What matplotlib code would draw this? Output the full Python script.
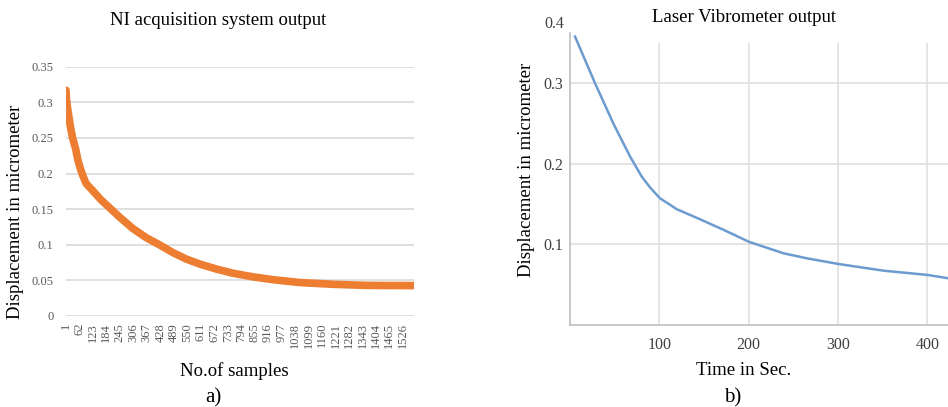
import matplotlib.pyplot as plt
import numpy as np

plt.rcParams['font.family'] = ['Liberation Serif', 'DejaVu Serif']

# a) NI acquisition system output (read from the picture)
ni_samples = [1, 3, 8, 15, 22, 31, 46, 54, 66, 76, 92, 122, 160, 205, 243, 303, 364, 424,
              485, 545, 606, 681, 757, 847, 938, 1059, 1210, 1361, 1450, 1576]
ni_disp = [0.317, 0.306, 0.292, 0.278, 0.264, 0.250, 0.233, 0.220, 0.207, 0.198, 0.186,
           0.176, 0.163, 0.150, 0.139, 0.123, 0.110, 0.100, 0.089, 0.080, 0.073, 0.066,
           0.060, 0.055, 0.051, 0.047, 0.0445, 0.043, 0.0428, 0.0427]
ni_ticks = list(range(1, 1527, 61))

# b) Laser vibrometer output
lv_time = [5.6, 28, 48.5, 67.2, 80.3, 90, 100.8, 112, 119.5, 127, 145.6, 171.7, 200.4,
           238.9, 265, 300.6, 351, 400.3, 423]
lv_disp = [0.358, 0.300, 0.250, 0.209, 0.184, 0.170, 0.157, 0.149, 0.1435, 0.140, 0.131,
           0.118, 0.103, 0.0888, 0.0826, 0.0755, 0.0672, 0.0619, 0.0578]

fig = plt.figure(figsize=(9.48, 4.07), dpi=100)

# left chart
ax1 = fig.add_axes([0.0696, 0.2236, 0.367, 0.6125])
ax1.plot(ni_samples, ni_disp, color='#ED7D31', linewidth=5.5, solid_capstyle='round')
ax1.set_xlim(1, 1576)
ax1.set_ylim(0, 0.35)
ax1.set_yticks(np.arange(0, 0.351, 0.05))
ax1.set_yticklabels(['0', '0.05', '0.1', '0.15', '0.2', '0.25', '0.3', '0.35'])
ax1.set_xticks(ni_ticks)
ax1.set_xticklabels([str(t) for t in ni_ticks], rotation=90)
ax1.grid(axis='y', color='#d9d9d9', linewidth=1.2)
ax1.set_axisbelow(True)
for s in ax1.spines.values():
    s.set_visible(False)
ax1.tick_params(axis='both', length=0, colors='#595959', labelsize=9)
ax1.tick_params(axis='y', pad=9)
ax1.tick_params(axis='x', pad=5)
ax1.set_title('NI acquisition system output', fontsize=13.5, pad=30, x=0.437)
ax1.set_ylabel('Displacement in micrometer', fontsize=13.5)
ax1.yaxis.set_label_coords(-0.122, 0.418)
ax1.set_xlabel('No.of samples', fontsize=13.5, labelpad=10)
ax1.xaxis.label.set_x(0.485)
fig.text(0.225, 0.01, 'a)', fontsize=15, ha='center')

# right chart
ax2 = fig.add_axes([0.6013, 0.202, 0.3987, 0.717])
ax2.plot(lv_time, lv_disp, color='#6C9BD0', linewidth=1.8)
ax2.set_xlim(0, 423)
ax2.set_ylim(0, 0.3625)
ax2.set_yticks([0.1, 0.2, 0.3])
ax2.set_yticklabels(['0.1', '0.2', '0.3'])
ax2.set_xticks([100, 200, 300, 400])
ax2.grid(axis='y', color='#e0e0e0', linewidth=1.2)
ax2.vlines([100, 200, 300, 400], 0, 0.35, color='#e0e0e0', linewidth=1.2, zorder=0)
ax2.set_axisbelow(True)
for s in ['top', 'right']:
    ax2.spines[s].set_visible(False)
for s in ['left', 'bottom']:
    ax2.spines[s].set_color('#bfbfbf')
    ax2.spines[s].set_linewidth(1.2)
ax2.tick_params(axis='both', length=0, colors='#404040', labelsize=11.5)
ax2.tick_params(axis='y', pad=5)
ax2.tick_params(axis='x', pad=9)
ax2.text(-0.014, 1.031, '0.4', transform=ax2.transAxes, ha='right', va='center',
         fontsize=11.5, color='#404040')
ax2.set_title('Laser Vibrometer output', fontsize=13.5, pad=8, x=0.46)
ax2.set_ylabel('Displacement in micrometer', fontsize=13.5, labelpad=6)
ax2.yaxis.label.set_y(0.53)
ax2.set_xlabel('Time in Sec.', fontsize=13.5, labelpad=6)
ax2.xaxis.label.set_x(0.458)
fig.text(0.773, 0.01, 'b)', fontsize=15, ha='center')

fig.savefig('out.png', dpi=100)
